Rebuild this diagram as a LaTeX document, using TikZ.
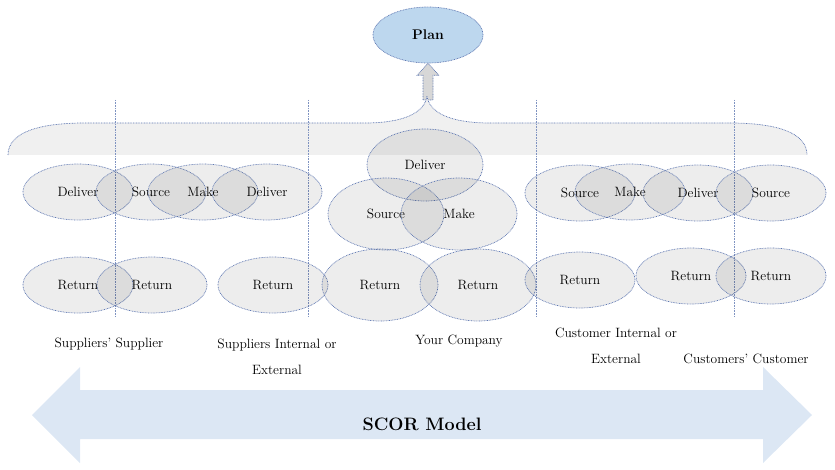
\documentclass[tikz,border=0pt]{standalone}
\usetikzlibrary{calc, shapes.geometric, positioning}
\definecolor{edgeblue}{RGB}{95,120,178}
\definecolor{planblue}{RGB}{189,215,238}
\definecolor{scorblue}{RGB}{220,231,244}
\definecolor{bracegray}{RGB}{240,240,240}
\definecolor{liftgray}{RGB}{215,215,215}

\begin{document}
\begin{tikzpicture}[x=1pt, y=-1pt,
  edge/.style={draw=edgeblue, line width=0.7pt, dash pattern=on 0.8pt off 0.8pt},
  stage/.style={ellipse, edge, fill=black, fill opacity=0.07, text opacity=1,
    minimum width=110pt, minimum height=56pt, inner sep=0pt, font=\fontsize{13.5}{15}\selectfont},
  bigstage/.style={stage, minimum width=116pt, minimum height=72pt},
  tier/.style={align=center, font=\fontsize{13.5}{26}\selectfont},
  divider/.style={edge, draw=edgeblue!80, line width=0.6pt},
  liftarrow/.style={edge, fill=liftgray}]
\useasboundingbox (0,0) rectangle (835,470);

\fill[scorblue] (32,415) -- (80,367) -- (80,390) -- (763,390) -- (763,367) -- (812,415)
  -- (763,463) -- (763,439) -- (80,439) -- (80,463) -- cycle;
\node[font=\bfseries\fontsize{18}{20}\selectfont] (scor) at (422,424) {SCOR Model};

\node[ellipse, edge, fill=planblue, minimum width=110pt, minimum height=56pt,
  font=\bfseries\fontsize{14}{16}\selectfont] (plan) at (428,35) {Plan};
\coordinate (tip) at (428,100);
\draw[liftarrow] ($(tip)+(-5,0)$) -- ($(plan.south)+(-5,12)$) -- ($(plan.south)+(-11,12)$) -- (plan.south)
  -- ($(plan.south)+(11,12)$) -- ($(plan.south)+(5,12)$) -- ($(tip)+(5,0)$) -- cycle;

\path[fill=bracegray, edge] (8,155) .. controls (8,132) and (40,123) .. (85,123)
  -- (365,123) .. controls (405,123) and (425,112) .. (427,96) .. controls (429,112) and (449,123) .. (490,123)
  -- (730,123) .. controls (775,123) and (807,132) .. (807,155);

\draw[divider] \foreach \x in {115,308,536,734} {(\x,100) -- (\x,317)};

\foreach \x/\t/\n in {78/Deliver/ssdel, 151/Source/sisrc, 203/Make/simake, 267/Deliver/sidel}
  \node[stage] (\n) at (\x,192) {\t};
\foreach \x/\t/\n in {78/Return/ssret, 152/Return/siretA, 273/Return/siretB}
  \node[stage] (\n) at (\x,285) {\t};

\node[bigstage] (ycdel) at (425,165) {Deliver};
\node[bigstage] (ycsrc) at (386,214) {Source};
\node[bigstage] (ycmake) at (459,214) {Make};
\node[bigstage] (ycretA) at (380,285) {Return};
\node[bigstage] (ycretB) at (478,285) {Return};

\node[stage] (cisrc) at (580,193) {Source};
\node[stage] (cidel) at (698,193) {Deliver};
\node[stage] (ccsrc) at (771,193) {Source};
\node[stage] (cimake) at (630,192) {Make};
\node[stage] (ciretA) at (580,280) {Return};
\node[stage] (ciretB) at (691,276) {Return};
\node[stage] (ccret) at (771,276) {Return};

\node[tier] (ss) at (109,344) {Suppliers' Supplier};
\node[tier] (si) at (277,357) {Suppliers Internal or\\External};
\node[tier] (yc) at (459,341) {Your Company};
\node[tier] (ci) at (616,346) {Customer Internal or\\External};
\node[tier] (cc) at (746,359) {Customers' Customer};
\end{tikzpicture}
\end{document}
